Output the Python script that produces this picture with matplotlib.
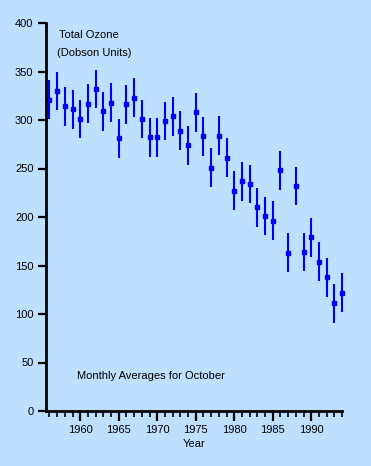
import matplotlib
matplotlib.use("Agg")
import matplotlib.pyplot as plt
from matplotlib.ticker import MultipleLocator

years = list(range(1956, 1995))
ozone = [321, 330, 314, 311, 301, 317, 332, 309, 318, 281,
         316, 323, 301, 282, 282, 299, 304, 289, 274, 308,
         283, 251, 284, 261, 227, 237, 234, 210, 201, 196,
         248, 163, 232, 164, 179, 154, 138, 111, 122]
err = [20] * len(years)

x_ticks = [1960, 1965, 1970, 1975, 1980, 1985, 1990]
y_ticks = [0, 50, 100, 150, 200, 250, 300, 350, 400]

W, H = 371, 466
bg = "#BFDFFF"
blue = "#0000F5"

plt.rcParams['font.family'] = ['Liberation Sans', 'DejaVu Sans']

fig = plt.figure(figsize=(W / 100, H / 100), dpi=100, facecolor=bg)
ax = fig.add_axes([46 / W, 55 / H, (342 - 46) / W, (411 - 23) / H])
ax.set_facecolor(bg)

ax.errorbar(years, ozone, yerr=err, fmt='s', color=blue, ecolor=blue,
            elinewidth=1.5, markersize=3.0, capsize=0, clip_on=False)

ax.set_xlim(1955.55, 1994.0)
ax.set_ylim(0, 400)
ax.set_xticks(x_ticks)
ax.set_yticks(y_ticks)
ax.xaxis.set_minor_locator(MultipleLocator(1))

for s in ['top', 'right']:
    ax.spines[s].set_visible(False)
for s in ['left', 'bottom']:
    ax.spines[s].set_linewidth(2.0)
    ax.spines[s].set_color('black')

ax.tick_params(axis='x', which='major', length=7, width=1.6, pad=3, labelsize=8)
ax.tick_params(axis='x', which='minor', length=4, width=1.2)
ax.tick_params(axis='y', which='major', length=6, width=1.6, pad=3, labelsize=8)

ax.set_xlabel("Year", fontsize=8, labelpad=3)

fig.text(59 / W, 1 - 35 / H, "Total Ozone", fontsize=8, va='center', ha='left')
fig.text(57 / W, 1 - 53 / H, "(Dobson Units)", fontsize=8, va='center', ha='left')
fig.text(77 / W, 1 - 376 / H, "Monthly Averages for October", fontsize=8,
         va='center', ha='left')

fig.savefig("out.png", dpi=100, facecolor=bg)
